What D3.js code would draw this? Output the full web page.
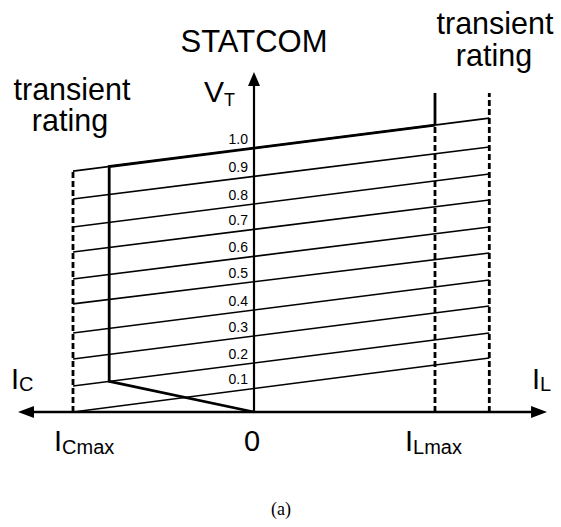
<!DOCTYPE html>
<html><head><meta charset="utf-8">
<script src="https://cdn.jsdelivr.net/npm/d3@7"></script>
<style>body{margin:0;background:#fff}svg{display:block}text{font-family:"Liberation Sans",Arial,sans-serif;fill:#000}</style>
</head><body>
<script>
// Data
const lineLabels = ["0.1","0.2","0.3","0.4","0.5","0.6","0.7","0.8","0.9","1.0"];
const vLeft  = [0, 0.098, 0.2, 0.298, 0.408, 0.502, 0.604, 0.698, 0.804, 0.909];
const vRight = [0.204, 0.298, 0.4, 0.498, 0.6, 0.698, 0.8, 0.898, 1.0, 1.109];
const iTransCap = -1.0, iTransInd = 1.3;   // transient rating limits
const iCapMax = -0.8, iLMax = 1.0;         // steady-state limits
const axisX = [-1.304, 1.619], axisYTop = 1.283, ratingTop = 1.204;

const W = 561, H = 527;
const svg = d3.select("body").append("svg").attr("width", W).attr("height", H);
const x = d3.scaleLinear().domain([-1, 1]).range([73, 435]);
const y = d3.scaleLinear().domain([0, 1]).range([412, 147]);

function vAt(k, i) { return vLeft[k] + (vRight[k] - vLeft[k]) * (i - iTransCap) / (iTransInd - iTransCap); }

// slope lines
svg.selectAll("line.sl").data(d3.range(10)).join("line").attr("class","sl")
  .attr("x1", x(iTransCap)).attr("y1", k => y(vLeft[k]))
  .attr("x2", x(iTransInd)).attr("y2", k => y(vRight[k]))
  .attr("stroke","#000").attr("stroke-width",1.6);

// dashed rating lines
const dash = "6,3";
const dw = 2.8;
svg.append("line").attr("x1",x(iTransCap)).attr("x2",x(iTransCap)).attr("y1",y(0)).attr("y2",y(vLeft[9]))
  .attr("stroke","#000").attr("stroke-width",dw).attr("stroke-dasharray",dash);
svg.append("line").attr("x1",x(iTransInd)).attr("x2",x(iTransInd)).attr("y1",y(0)).attr("y2",y(ratingTop))
  .attr("stroke","#000").attr("stroke-width",dw).attr("stroke-dasharray",dash);
svg.append("line").attr("x1",x(iLMax)).attr("x2",x(iLMax)).attr("y1",y(0)).attr("y2",y(vAt(9,iLMax)))
  .attr("stroke","#000").attr("stroke-width",dw).attr("stroke-dasharray",dash);
svg.append("line").attr("x1",x(iLMax)).attr("x2",x(iLMax)).attr("y1",y(vAt(9,iLMax))).attr("y2",y(ratingTop))
  .attr("stroke","#000").attr("stroke-width",2.8);

// operating characteristic (thick)
const op = [[0,0],[iCapMax, vAt(1,iCapMax)],[iCapMax, vAt(9,iCapMax)],[iLMax, vAt(9,iLMax)]];
svg.append("path").attr("d", d3.line().x(d=>x(d[0])).y(d=>y(d[1]))(op))
  .attr("fill","none").attr("stroke","#000").attr("stroke-width",2.8).attr("stroke-linejoin","miter");

// axes
svg.append("line").attr("x1",x(axisX[0])+12).attr("x2",x(axisX[1])-12).attr("y1",y(0)).attr("y2",y(0))
  .attr("stroke","#000").attr("stroke-width",2.4);
svg.append("line").attr("x1",x(0)).attr("x2",x(0)).attr("y1",y(0)).attr("y2",y(axisYTop)+12)
  .attr("stroke","#000").attr("stroke-width",2.2);
const xl = x(axisX[0]), xr = x(axisX[1]), yt = y(axisYTop), y0 = y(0), x0 = x(0);
svg.append("path").attr("d",`M${xl},${y0}L${xl+16},${y0-6}L${xl+16},${y0+6}Z`);
svg.append("path").attr("d",`M${xr},${y0}L${xr-16},${y0-6}L${xr-16},${y0+6}Z`);
svg.append("path").attr("d",`M${x0},${yt}L${x0-6},${yt+14}L${x0+6},${yt+14}Z`);

// line labels
svg.selectAll("text.ll").data(d3.range(10)).join("text").attr("class","ll")
  .attr("x", x(0)-6).attr("y", k => y(vAt(k,0)) - 4)
  .attr("text-anchor","end").attr("font-size",14).text(k => lineLabels[k]);

// texts
function t(txt, px, py, size, anchor="start") {
  return svg.append("text").attr("x",px).attr("y",py).attr("font-size",size).attr("text-anchor",anchor).text(txt);
}
t("STATCOM", 254, 52, 31, "middle");
t("transient", 72, 100, 30.5, "middle");
t("rating", 70, 131, 30.5, "middle");
t("transient", 495, 34, 30.5, "middle");
t("rating", 494, 66, 30.5, "middle");
const vt = t("V", 204, 102, 30); vt.append("tspan").attr("font-size",18).attr("dy",4).text("T");
const ic = t("I", 11, 389, 29); ic.append("tspan").attr("font-size",20).attr("dy",2).text("C");
const il = t("I", 532, 389, 29); il.append("tspan").attr("font-size",20).attr("dy",2).text("L");
const icm = t("I", 54, 451, 29); icm.append("tspan").attr("font-size",20).attr("dy",3).text("Cmax");
t("0", 252, 451, 29, "middle");
const ilm = t("I", 405, 451, 29); ilm.append("tspan").attr("font-size",20).attr("dy",3).text("Lmax");
t("(a)", 281, 515, 18, "middle").attr("style","font-family:'Liberation Serif',serif");
</script>
</body></html>
